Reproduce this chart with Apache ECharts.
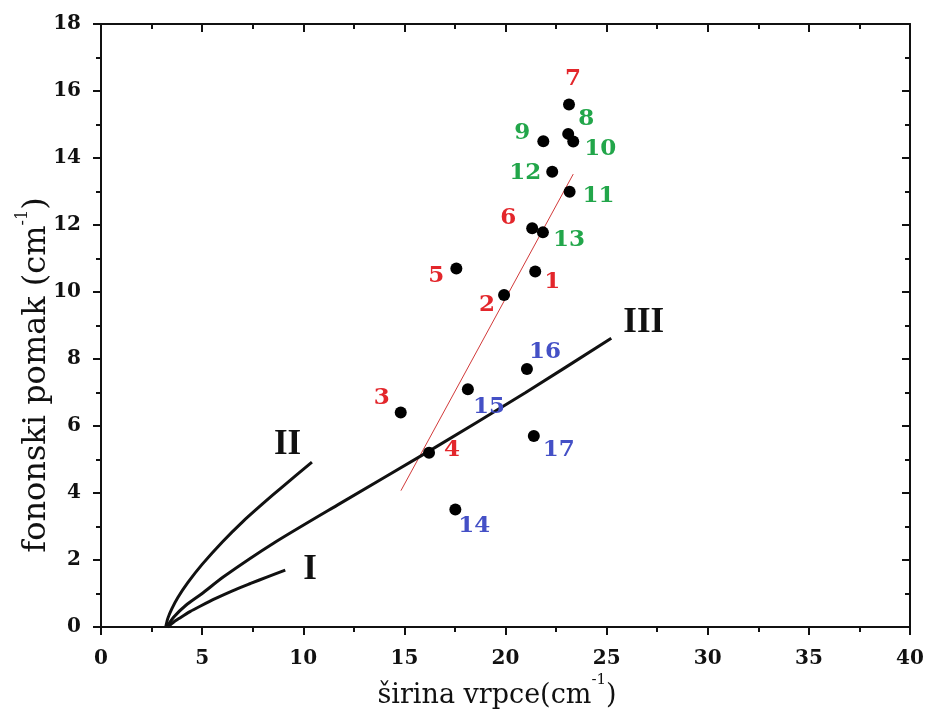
<!DOCTYPE html>
<html>
<head>
<meta charset="utf-8">
<script src="https://cdn.jsdelivr.net/npm/echarts@6/dist/echarts.min.js"></script>
<style>html,body{margin:0;padding:0;background:#fff}#c{width:927px;height:714px}</style>
</head>
<body>
<div id="c"></div>
<script>
// ---- data ----
const pointIds = ['1','2','3','4','5','6','7','8','9','10','11','12','13','14','15','16','17'];
const pointX = [21.47,19.93,14.82,16.22,17.57,21.32,23.14,23.10,21.87,23.35,23.17,22.31,21.85,17.52,18.14,21.06,21.40];
const pointY = [10.61,9.91,6.40,5.20,10.70,11.90,15.60,14.72,14.50,14.49,12.99,13.59,11.78,3.51,7.10,7.70,5.70];
const pointGroup = ['r','r','r','r','r','r','r','g','g','g','g','g','g','b','b','b','b'];
const curveIX = [3.30,3.60,3.90,4.40,4.90,5.70,6.50,7.40,8.20,9.11];
const curveIY = [0,0.15,0.27,0.46,0.62,0.86,1.08,1.30,1.49,1.70];
const curveIIX = [3.20,3.30,3.50,3.80,4.30,5.00,6.00,7.00,8.00,9.00,10.43];
const curveIIY = [0,0.25,0.54,0.88,1.33,1.87,2.54,3.14,3.68,4.20,4.92];
const curveIIIX = [3.25,3.60,4.20,5.00,6.06,8.53,11.83,16.22,21.00,25.23];
const curveIIIY = [0,0.30,0.65,1.00,1.50,2.50,3.69,5.25,7.00,8.62];
const fitX = [14.83,23.35];
const fitY = [4.07,13.52];
const xTicks = {min:0,max:40,interval:5};
const yTicks = {min:0,max:18,interval:2};

// ---- styles ----
const labelOffsets = [[17,10],[-17,10],[-19,-15],[23,-3],[-20,7],[-24,-10],[4,-25],[18,-15],[-21,-8],[27,7],[29,4],[-27,1],[26,8],[19,17],[21,18],[18,-17],[25,14]];
const groupColor = {r:'#e3262b', g:'#22a64a', b:'#4450c6'};
const tickFont = {fontFamily:'DejaVu Serif', fontWeight:'bold', fontSize:20, color:'#111'};
const romanFont = {fontFamily:'Liberation Serif', fontWeight:'bold', fontSize:35, color:'#111'};

const zip = (a,b)=>a.map((v,i)=>[v,b[i]]);
const chart = echarts.init(document.getElementById('c'));

function axisBase(extra){
  return Object.assign({
    type:'value',
    axisLine:{show:true,onZero:false,lineStyle:{color:'#111',width:2}},
    splitLine:{show:false},
    minorSplitLine:{show:false}
  }, extra);
}

const scatterData = pointIds.map((id,i)=>({
  value:[pointX[i],pointY[i]],
  label:{show:true, formatter:id, position:'inside', offset:labelOffsets[i], opacity:1,
    color:groupColor[pointGroup[i]], fontFamily:'DejaVu Serif', fontWeight:'bold', fontSize:23}
}));

function curve(xs, ys, name, off){
  return {
    type:'line', name, data:zip(xs,ys), smooth:0.25, showSymbol:false, symbol:'none',
    lineStyle:{color:'#111',width:3}, z:3,
    endLabel:{show:true, formatter:name, offset:off, ...romanFont}
  };
}

chart.setOption({
  animation:false,
  backgroundColor:'#fff',
  grid:{left:101,right:17,top:24,bottom:87},
  xAxis:[
    axisBase({position:'bottom', ...xTicks,
      axisTick:{show:true,inside:false,length:8,lineStyle:{color:'#111',width:2}},
      minorTick:{show:true,splitNumber:2,length:5,lineStyle:{color:'#111',width:2}},
      axisLabel:{...tickFont, margin:22}}),
    axisBase({position:'top', ...xTicks,
      axisTick:{show:true,inside:true,length:8,lineStyle:{color:'#111',width:2}},
      minorTick:{show:true,splitNumber:2,length:5,lineStyle:{color:'#111',width:2}},
      axisLabel:{show:false}})
  ],
  yAxis:[
    axisBase({position:'left', ...yTicks,
      axisTick:{show:true,inside:false,length:8,lineStyle:{color:'#111',width:2}},
      minorTick:{show:true,splitNumber:2,length:5,lineStyle:{color:'#111',width:2}},
      axisLabel:{...tickFont, margin:20}}),
    axisBase({position:'right', ...yTicks,
      axisTick:{show:true,inside:true,length:8,lineStyle:{color:'#111',width:2}},
      minorTick:{show:true,splitNumber:2,length:5,lineStyle:{color:'#111',width:2}},
      axisLabel:{show:false}})
  ],
  series:[
    {type:'line', data:zip(fitX,fitY), showSymbol:false, symbol:'none',
      lineStyle:{color:'#d23a3a',width:1}, z:2},
    curve(curveIX, curveIY, 'I', [10,0]),
    curve(curveIIX, curveIIY, 'II', [-46,-17]),
    curve(curveIIIX, curveIIIY, 'III', [4,-15]),
    {type:'scatter', data:scatterData, symbol:'circle', symbolSize:12,
      itemStyle:{color:'#000', opacity:1}, z:5}
  ],
  graphic:[
    {type:'text', x:497, y:673, silent:true,
      style:{text:'{a|širina vrpce(cm}{s|-1}{a|)}', fill:'#111', align:'center', verticalAlign:'top',
        rich:{a:{fontFamily:'DejaVu Serif',fontSize:27,lineHeight:36,verticalAlign:'bottom'},
              s:{fontFamily:'DejaVu Serif',fontSize:15,lineHeight:36,verticalAlign:'top',padding:[0,0,18,0]}}}},
    {type:'text', x:15, y:375, rotation:Math.PI/2, silent:true,
      style:{text:'{a|fononski pomak (cm}{s|-1}{a|)}', fill:'#111', align:'center', verticalAlign:'top',
        rich:{a:{fontFamily:'DejaVu Serif',fontSize:32,lineHeight:38,verticalAlign:'bottom'},
              s:{fontFamily:'DejaVu Serif',fontSize:16,lineHeight:38,verticalAlign:'top',padding:[0,0,20,0]}}}}
  ]
});
</script>
</body>
</html>
